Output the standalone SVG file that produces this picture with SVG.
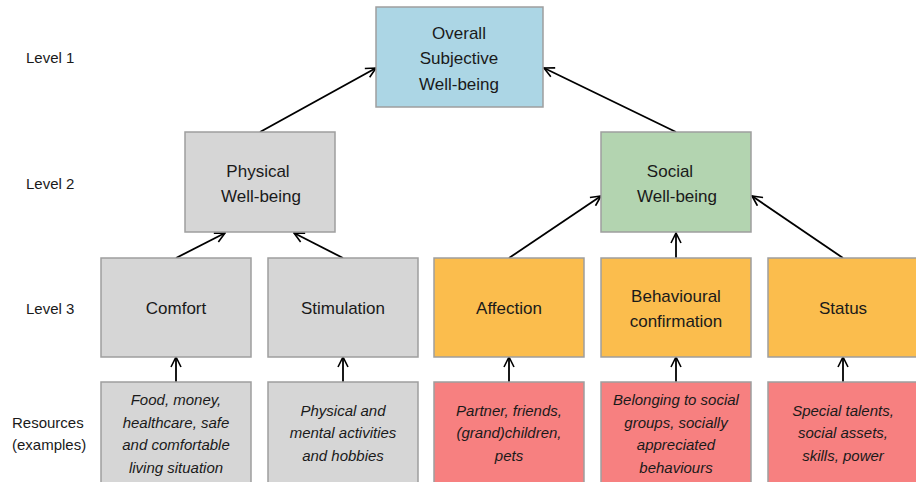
<svg xmlns="http://www.w3.org/2000/svg" width="916" height="482" viewBox="0 0 916 482">
  <defs>
    <marker id="arr" viewBox="0 0 12 12" refX="11" refY="6" markerWidth="12" markerHeight="12" markerUnits="userSpaceOnUse" orient="auto">
      <path d="M1,1 L11,6 L1,11" fill="none" stroke="#000" stroke-width="1.6"/>
    </marker>
  </defs>
  <style>
    .box { stroke: #9e9e9e; stroke-width: 1.5; }
    .blue { fill: #acd6e5; }
    .grey { fill: #d6d6d6; }
    .green { fill: #b3d4b0; }
    .orange { fill: #fbbd4d; }
    .red { fill: #f78080; }
    .t { font-family: "Liberation Sans", Arial, sans-serif; font-size: 17px; fill: #1a1a1a; text-anchor: middle; }
    .r { font-family: "Liberation Sans", Arial, sans-serif; font-size: 15px; font-style: italic; fill: #1a1a1a; text-anchor: middle; }
    .lvl { font-family: "Liberation Sans", Arial, sans-serif; font-size: 15px; fill: #1a1a1a; }
    .c { stroke: #000; stroke-width: 1.8; fill: none; marker-end: url(#arr); }
  </style>
  <rect width="916" height="482" fill="#fff"/>

  <!-- level labels -->
  <g id="labels">
    <text class="lvl" x="26" y="63">Level 1</text>
    <text class="lvl" x="26" y="189">Level 2</text>
    <text class="lvl" x="26" y="314">Level 3</text>
    <text class="lvl" x="12" y="428">Resources</text>
    <text class="lvl" x="12" y="450">(examples)</text>
  </g>

  <!-- connectors -->
  <g id="connectors">
    <line class="c" x1="260" y1="132" x2="376" y2="68"/>
    <line class="c" x1="676" y1="132" x2="544" y2="68"/>
    <line class="c" x1="176" y1="258" x2="225" y2="233"/>
    <line class="c" x1="343" y1="258" x2="294" y2="233"/>
    <line class="c" x1="509" y1="258" x2="601" y2="196"/>
    <line class="c" x1="676" y1="258" x2="676" y2="233"/>
    <line class="c" x1="843" y1="258" x2="752" y2="196"/>
    <line class="c" x1="176" y1="382" x2="176" y2="357"/>
    <line class="c" x1="343" y1="382" x2="343" y2="357"/>
    <line class="c" x1="509" y1="382" x2="509" y2="357"/>
    <line class="c" x1="676" y1="382" x2="676" y2="357"/>
    <line class="c" x1="843" y1="382" x2="843" y2="357"/>
  </g>

  <!-- level 1 -->
  <g id="overall">
    <rect class="box blue" x="376" y="7" width="167" height="100"/>
    <text class="t" x="459" y="39">Overall</text>
    <text class="t" x="459" y="64">Subjective</text>
    <text class="t" x="459" y="90">Well-being</text>
  </g>

  <!-- level 2 -->
  <g id="physical">
    <rect class="box grey" x="185" y="132" width="150" height="100"/>
    <text class="t" x="258" y="177">Physical</text>
    <text class="t" x="261" y="202">Well-being</text>
  </g>
  <g id="social">
    <rect class="box green" x="601" y="132" width="150" height="100"/>
    <text class="t" x="670" y="177">Social</text>
    <text class="t" x="677" y="202">Well-being</text>
  </g>

  <!-- level 3 -->
  <g id="comfort">
    <rect class="box grey" x="101" y="258" width="150" height="99"/>
    <text class="t" x="176" y="314">Comfort</text>
  </g>
  <g id="stimulation">
    <rect class="box grey" x="268" y="258" width="150" height="99"/>
    <text class="t" x="343" y="314">Stimulation</text>
  </g>
  <g id="affection">
    <rect class="box orange" x="434" y="258" width="150" height="99"/>
    <text class="t" x="509" y="314">Affection</text>
  </g>
  <g id="behavioural">
    <rect class="box orange" x="601" y="258" width="150" height="99"/>
    <text class="t" x="676" y="302">Behavioural</text>
    <text class="t" x="676" y="327">confirmation</text>
  </g>
  <g id="status">
    <rect class="box orange" x="768" y="258" width="160" height="99"/>
    <text class="t" x="843" y="314">Status</text>
  </g>

  <!-- resources -->
  <g id="res-comfort">
    <rect class="box grey" x="101" y="382" width="150" height="110"/>
    <text class="r" x="176" y="405">Food, money,</text>
    <text class="r" x="176" y="428">healthcare, safe</text>
    <text class="r" x="176" y="450">and comfortable</text>
    <text class="r" x="176" y="473">living situation</text>
  </g>
  <g id="res-stimulation">
    <rect class="box grey" x="268" y="382" width="150" height="110"/>
    <text class="r" x="343" y="416">Physical and</text>
    <text class="r" x="343" y="438">mental activities</text>
    <text class="r" x="343" y="461">and hobbies</text>
  </g>
  <g id="res-affection">
    <rect class="box red" x="434" y="382" width="150" height="110"/>
    <text class="r" x="509" y="416">Partner, friends,</text>
    <text class="r" x="509" y="438">(grand)children,</text>
    <text class="r" x="509" y="461">pets</text>
  </g>
  <g id="res-behavioural">
    <rect class="box red" x="601" y="382" width="150" height="110"/>
    <text class="r" x="676" y="405">Belonging to social</text>
    <text class="r" x="676" y="428">groups, socially</text>
    <text class="r" x="676" y="450">appreciated</text>
    <text class="r" x="676" y="473">behaviours</text>
  </g>
  <g id="res-status">
    <rect class="box red" x="768" y="382" width="160" height="110"/>
    <text class="r" x="843" y="416">Special talents,</text>
    <text class="r" x="843" y="438">social assets,</text>
    <text class="r" x="843" y="461">skills, power</text>
  </g>
</svg>
